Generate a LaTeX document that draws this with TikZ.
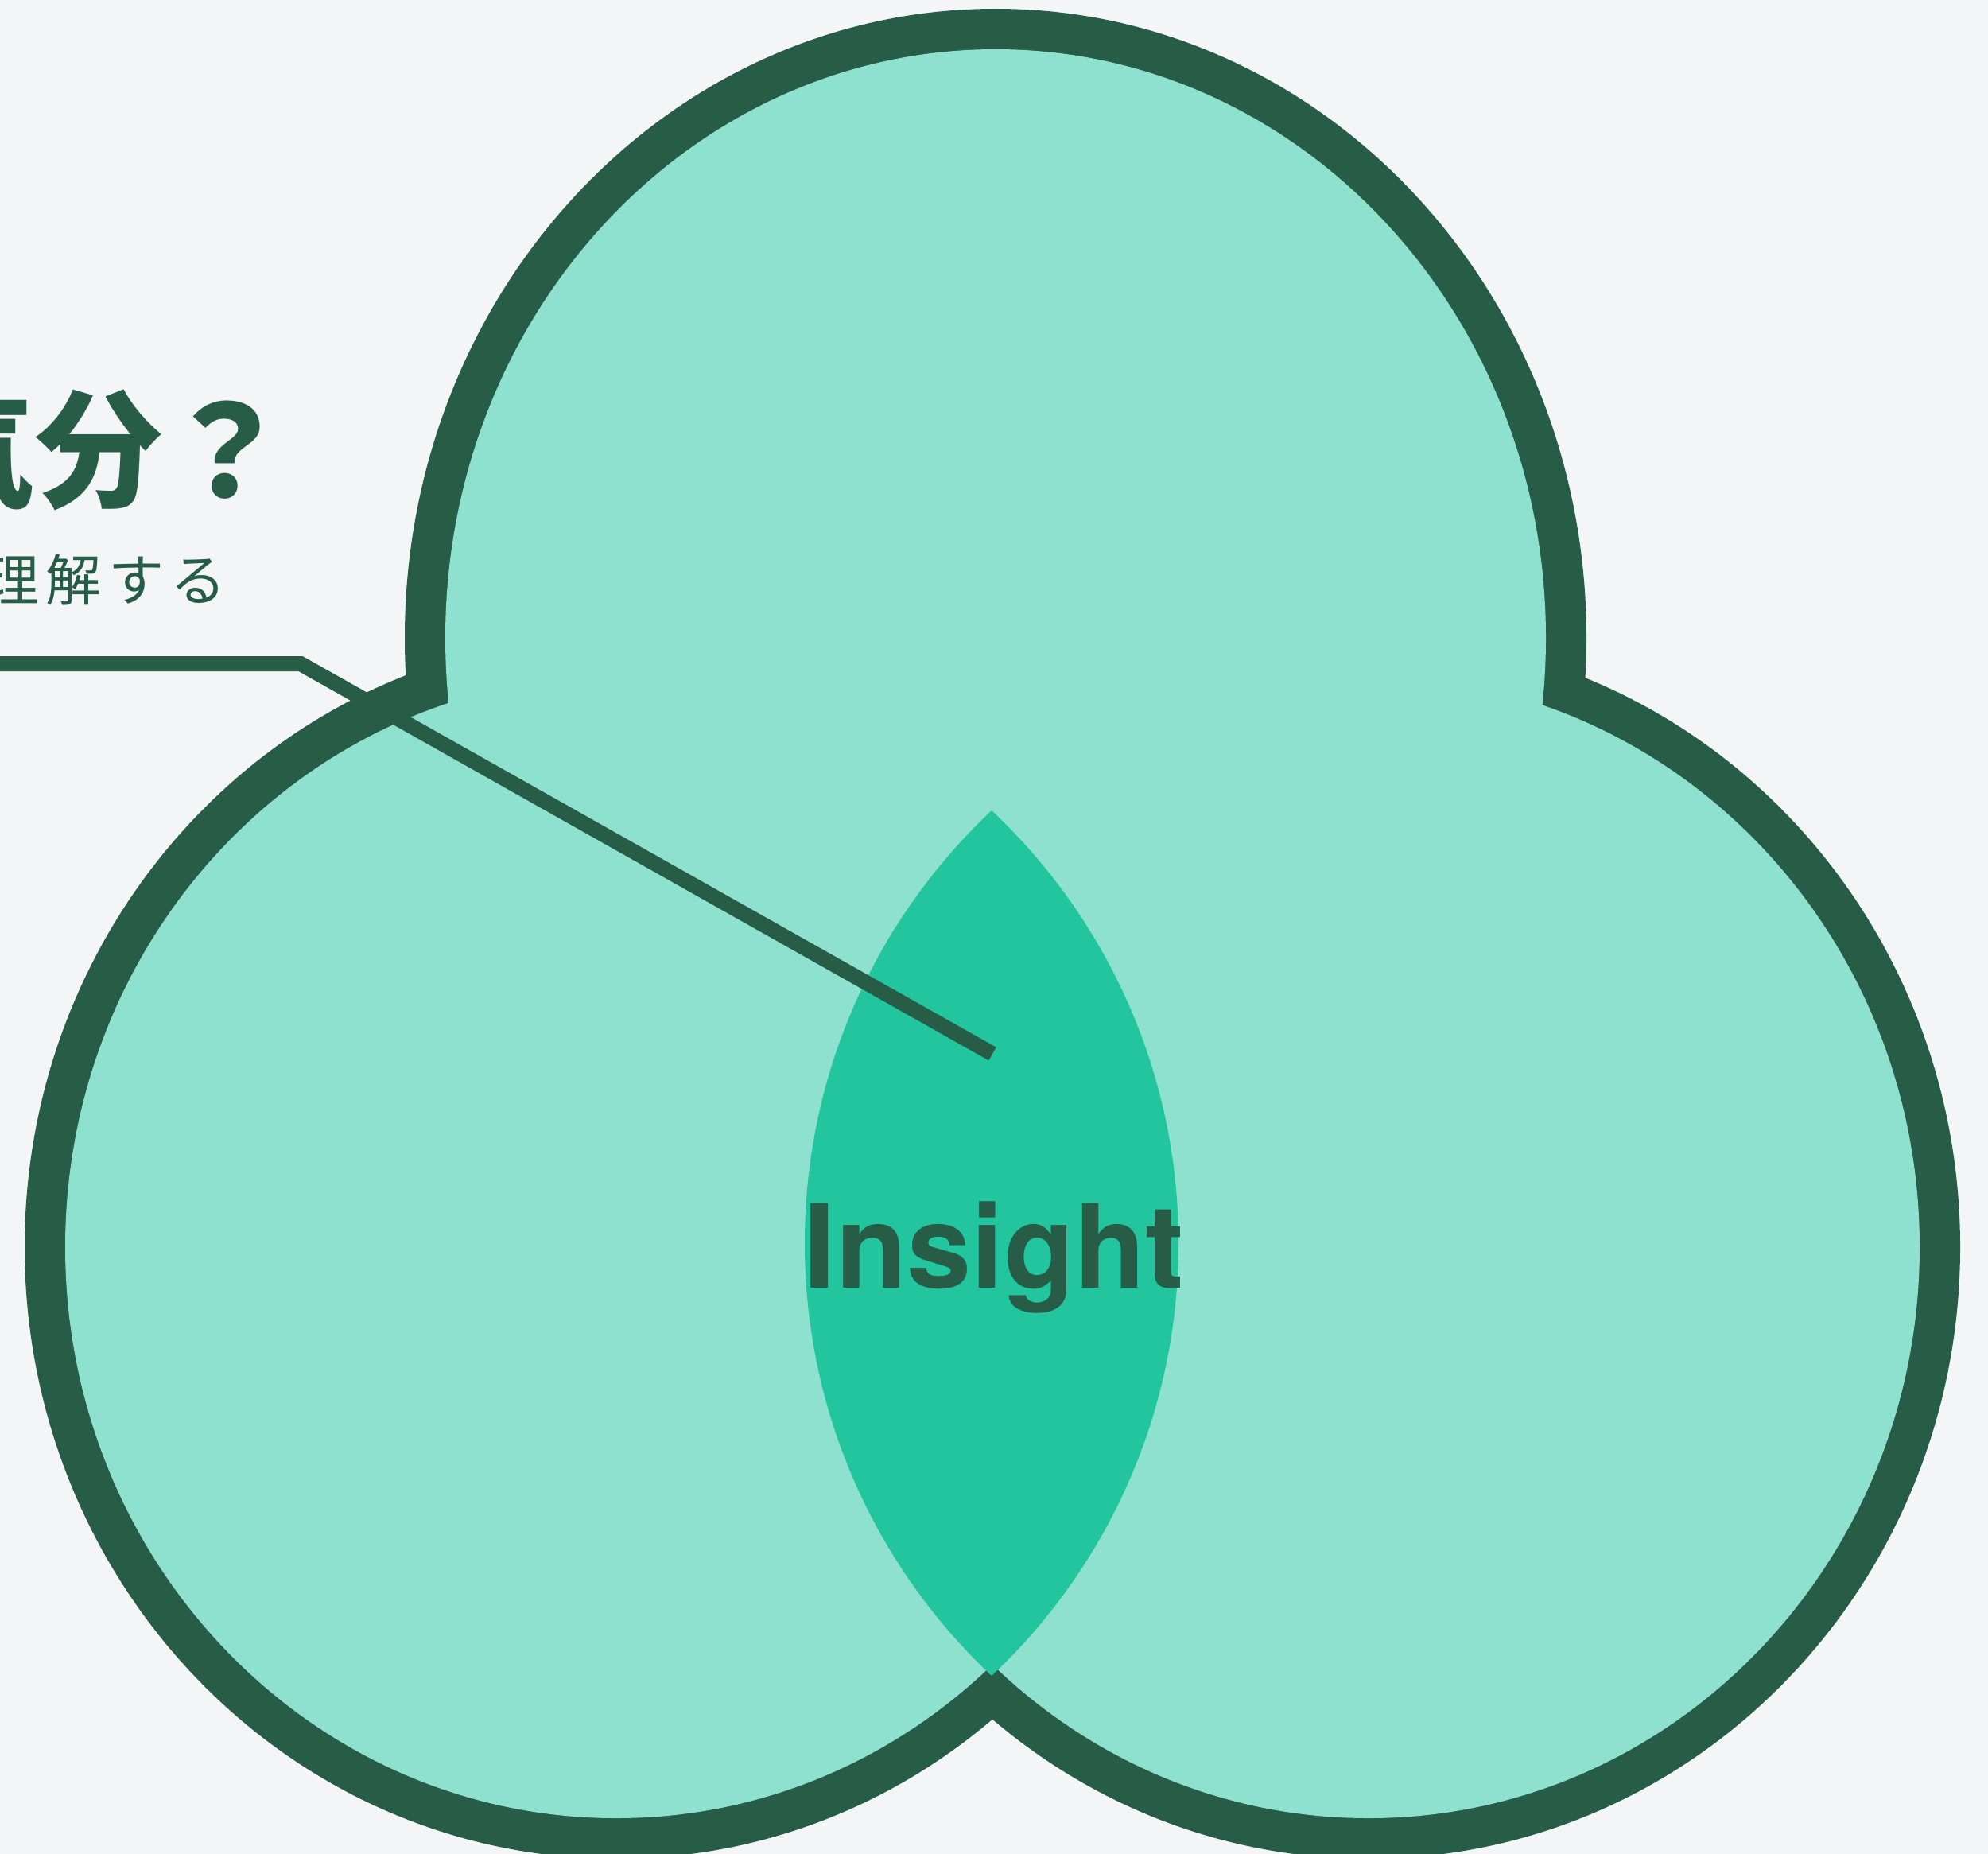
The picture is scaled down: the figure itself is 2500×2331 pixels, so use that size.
\documentclass[tikz,border=0pt]{standalone}
\usepackage{fontspec}
\newfontfamily\jpfont{Noto Sans CJK JP}
\newfontfamily\herosfont{TeX Gyre Heros}
\definecolor{bgcol}{HTML}{F4F5F6}
\definecolor{darkgreen}{HTML}{275D47}
\definecolor{lightteal}{HTML}{8EE0CF}
\definecolor{lenscol}{HTML}{22C59E}
\tikzset{
  ringline/.style={draw=darkgreen, line width=102pt},
  ringfill/.style={fill=lightteal},
  leader/.style={draw=darkgreen, line width=19pt, line join=miter},
  titletext/.style={anchor=base east, inner sep=0pt, text=darkgreen, font=\jpfont\bfseries\fontsize{160}{160}\selectfont},
  subtext/.style={anchor=base east, inner sep=0pt, text=darkgreen, font=\jpfont\fontsize{70}{70}\selectfont\addfontfeature{LetterSpace=12}},
  insighttext/.style={anchor=base, inner sep=0pt, text=darkgreen, font=\herosfont\bfseries\fontsize{146}{146}\selectfont}
}
\begin{document}
\begin{tikzpicture}[x=1pt,y=-1pt]
\useasboundingbox (0,0) rectangle (2500,2331);
\fill[bgcol] (0,0) rectangle (2500,2331);
% centres of the three lobes
\coordinate (ctop) at (1252,802);
\coordinate (cleft) at (775,1568);
\coordinate (cright) at (1721,1568);
% outer border of the union (inner half of each stroke is covered by the fills)
\path[ringline] (ctop) ellipse[x radius=692pt, y radius=740pt];
\path[ringline] (cleft) ellipse[x radius=693pt, y radius=718pt];
\path[ringline] (cright) ellipse[x radius=693pt, y radius=718pt];
% fills
\path[ringfill] (ctop) ellipse[x radius=692pt, y radius=740pt];
\path[ringfill] (cleft) ellipse[x radius=693pt, y radius=718pt];
\path[ringfill] (cright) ellipse[x radius=693pt, y radius=718pt];
% lens
\begin{scope}
  \clip (735,1563) circle[radius=747pt];
  \fill[lenscol] (1759,1563) circle[radius=747pt];
\end{scope}
% texts
\node[titletext] (title) at (365,625) {気分？};
\node[subtext] (sub) at (285,755) {理解する};
\node[insighttext] (insight) at (1250,1619) {Insight};
% leader line
\coordinate (lstart) at (-20,834.5);
\coordinate (kink) at (378,834.5);
\coordinate (tip) at (1248,1325);
\draw[leader] (lstart) -- (kink) -- (tip);
\end{tikzpicture}
\end{document}
